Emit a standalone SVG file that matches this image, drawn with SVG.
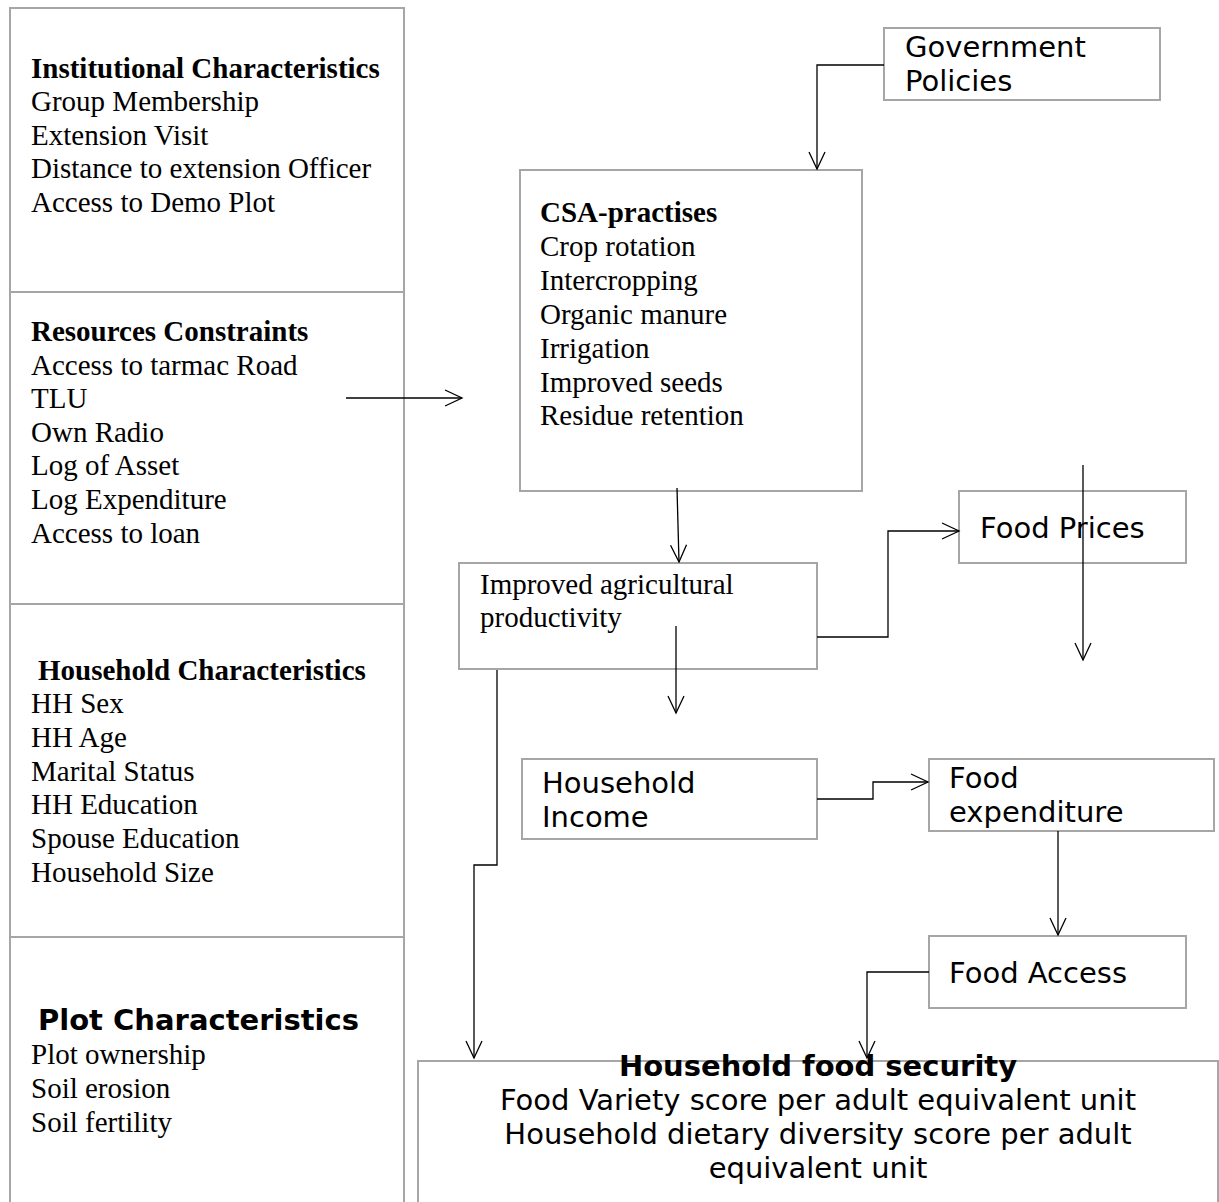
<svg xmlns="http://www.w3.org/2000/svg" width="1219" height="1202" viewBox="0 0 1219 1202">
<defs>
<style>
.box{fill:#fff;stroke:#a6a6a6;stroke-width:2}
.c{fill:none;stroke:#000;stroke-width:1.3}
.ser{font-family:"Liberation Serif","Times New Roman",serif;font-size:29px;fill:#000}
.sb{font-weight:bold}
.san{font-family:"DejaVu Sans",sans-serif;font-size:29px;fill:#000}
</style>
<marker id="a" viewBox="0 0 20 20" refX="18" refY="9" markerWidth="20" markerHeight="20" markerUnits="userSpaceOnUse" orient="auto">
<path d="M1,1 L18,9 L1,17" fill="none" stroke="#000" stroke-width="1.3"/>
</marker>
</defs>
<rect width="1219" height="1202" fill="#fff"/>
<g id="institutional">
<rect class="box" x="10" y="8" width="394" height="284"/>
<text class="ser"><tspan class="sb" x="31" y="78">Institutional Characteristics</tspan><tspan x="31" y="111">Group Membership</tspan><tspan x="31" y="145">Extension Visit</tspan><tspan x="31" y="178">Distance to extension Officer</tspan><tspan x="31" y="212">Access to Demo Plot</tspan></text>
</g>
<g id="resources">
<rect class="box" x="10" y="292" width="394" height="312"/>
<text class="ser"><tspan class="sb" x="31" y="341">Resources Constraints</tspan><tspan x="31" y="375">Access to tarmac Road</tspan><tspan x="31" y="408">TLU</tspan><tspan x="31" y="442">Own Radio</tspan><tspan x="31" y="475">Log of Asset</tspan><tspan x="31" y="509">Log Expenditure</tspan><tspan x="31" y="543">Access to loan</tspan></text>
</g>
<g id="household">
<rect class="box" x="10" y="604" width="394" height="333"/>
<text class="ser"><tspan class="sb" x="38" y="680">Household Characteristics</tspan><tspan x="31" y="713">HH Sex</tspan><tspan x="31" y="747">HH Age</tspan><tspan x="31" y="781">Marital Status</tspan><tspan x="31" y="814">HH Education</tspan><tspan x="31" y="848">Spouse Education</tspan><tspan x="31" y="882">Household Size</tspan></text>
</g>
<g id="plot">
<rect class="box" x="10" y="937" width="394" height="300"/>
<text class="san" font-weight="bold" x="38" y="1030">Plot Characteristics</text>
<text class="ser"><tspan x="31" y="1064">Plot ownership</tspan><tspan x="31" y="1098">Soil erosion</tspan><tspan x="31" y="1132">Soil fertility</tspan></text>
</g>
<g id="government">
<rect class="box" x="884" y="28" width="276" height="72"/>
<text class="san"><tspan x="905" y="57">Government</tspan><tspan x="905" y="91">Policies</tspan></text>
</g>
<g id="csa">
<rect class="box" x="520" y="170" width="342" height="321"/>
<text class="ser"><tspan class="sb" x="540" y="222">CSA-practises</tspan><tspan x="540" y="256">Crop rotation</tspan><tspan x="540" y="290">Intercropping</tspan><tspan x="540" y="324">Organic manure</tspan><tspan x="540" y="358">Irrigation</tspan><tspan x="540" y="392">Improved seeds</tspan><tspan x="540" y="425">Residue retention</tspan></text>
</g>
<g id="productivity">
<rect class="box" x="459" y="563" width="358" height="106"/>
<text class="ser"><tspan x="480" y="594">Improved agricultural</tspan><tspan x="480" y="627">productivity</tspan></text>
</g>
<g id="prices">
<rect class="box" x="959" y="491" width="227" height="72"/>
<text class="san" x="980" y="538">Food Prices</text>
</g>
<g id="income">
<rect class="box" x="522" y="759" width="295" height="80"/>
<text class="san"><tspan x="542" y="793">Household</tspan><tspan x="542" y="827">Income</tspan></text>
</g>
<g id="expenditure">
<rect class="box" x="929" y="759" width="285" height="72"/>
<text class="san"><tspan x="949" y="788">Food</tspan><tspan x="949" y="822">expenditure</tspan></text>
</g>
<g id="access">
<rect class="box" x="929" y="936" width="257" height="72"/>
<text class="san" x="949" y="983">Food Access</text>
</g>
<g id="foodsecurity">
<rect class="box" x="418" y="1061" width="800" height="200"/>
<text class="san" text-anchor="middle"><tspan font-weight="bold" x="818" y="1076">Household food security</tspan><tspan x="818" y="1110">Food Variety score per adult equivalent unit</tspan><tspan x="818" y="1144">Household dietary diversity score per adult</tspan><tspan x="818" y="1178">equivalent unit</tspan></text>
</g>
<g id="connectors" class="c" marker-end="url(#a)">
<path class="c" d="M884,65 H817 V169" marker-end="url(#a)"/>
<path class="c" d="M346,398 H462" marker-end="url(#a)"/>
<path class="c" d="M677,488 L679,562" marker-end="url(#a)"/>
<path class="c" d="M676,626 V713" marker-end="url(#a)"/>
<path class="c" d="M817,637 H888 V531 H959" marker-end="url(#a)"/>
<path class="c" d="M1083,465 V660" marker-end="url(#a)"/>
<path class="c" d="M817,799 H873 V782 H928" marker-end="url(#a)"/>
<path class="c" d="M1058,831 V935" marker-end="url(#a)"/>
<path class="c" d="M929,972 H867 V1058" marker-end="url(#a)"/>
<path class="c" d="M497,670 V865 H474 V1058" marker-end="url(#a)"/>
</g>
</svg>
